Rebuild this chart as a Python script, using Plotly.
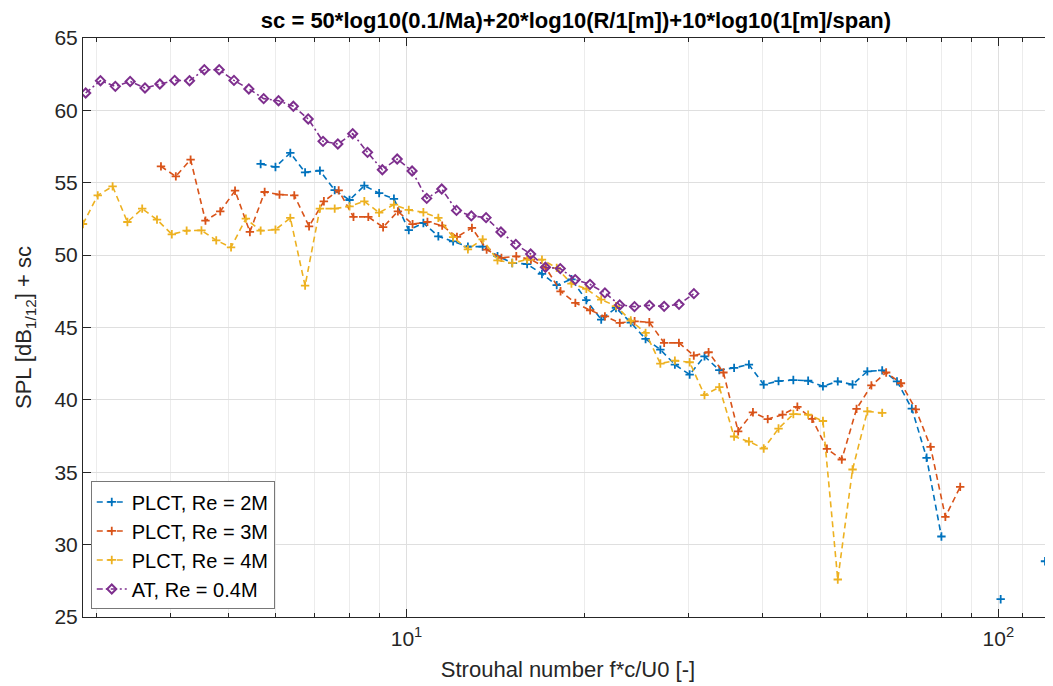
import plotly.graph_objects as go

# ---- data ----
st_re2m = [5.671, 6.007, 6.364, 6.741, 7.141, 7.564, 8.013, 8.488, 8.991, 9.524,
           10.09, 10.68, 11.32, 11.99, 12.70, 13.45, 14.25, 15.09, 15.99, 16.94,
           17.94, 19.00, 20.13, 21.33, 22.59, 23.93, 25.35, 26.85, 28.41, 30.09,
           31.88, 33.77, 35.77, 37.89, 40.14, 42.52, 45.04, 47.71, 50.54, 53.54,
           56.71, 60.07, 63.64, 67.41, 71.41, 75.64, 80.13, 84.88, 89.91, 95.24,
           100.9, 106.8, 113.2, 119.9, 127.0]
spl_re2m = [56.30, 56.09, 57.06, 55.72, 55.84, 54.49, 53.81, 54.80, 54.28, 53.89,
            51.73, 52.22, 51.30, 50.95, 50.59, 50.59, 49.93, 49.46, 49.38, 48.70,
            47.93, 48.33, 46.89, 45.55, 46.35, 45.34, 44.21, 43.47, 42.44, 41.75,
            43.01, 42.06, 42.21, 42.44, 41.06, 41.30, 41.37, 41.32, 40.94, 41.28,
            41.06, 41.97, 42.04, 41.28, 39.40, 36.00, 30.56, None, None, None,
            26.23, None, None, 28.85, 31.10]

st_re3m = [3.848, 4.077, 4.318, 4.575, 4.846, 5.133, 5.438, 5.760, 6.102, 6.463,
           6.846, 7.252, 7.682, 8.137, 8.620, 9.131, 9.672, 10.24, 10.85, 11.49,
           12.17, 12.90, 13.66, 14.47, 15.33, 16.23, 17.20, 18.21, 19.29, 20.43,
           21.64, 22.93, 24.29, 25.72, 27.25, 28.86, 30.58, 32.39, 34.31, 36.34,
           38.49, 40.77, 43.19, 45.75, 48.46, 51.33, 54.38, 57.60, 61.02, 64.63,
           68.46, 72.52, 76.82, 81.37, 86.20]
spl_re3m = [56.13, 55.44, 56.60, 52.38, 53.02, 54.45, 51.60, 54.36, 54.18, 54.13,
            51.99, 53.72, 54.47, 52.64, 52.64, 51.93, 53.02, 52.14, 52.30, 52.04,
            51.26, 51.88, 50.38, 49.81, 49.92, 49.69, 49.12, 47.50, 46.70, 46.19,
            45.77, 45.32, 45.43, 45.36, 43.94, 43.94, 43.06, 43.29, 41.89, 37.83,
            39.14, 38.67, 38.98, 39.52, 38.69, 36.62, 35.88, 39.38, 41.00, 41.89,
            41.15, 39.35, 36.75, 31.92, 33.99]

st_re4m = [2.841, 3.009, 3.188, 3.377, 3.577, 3.789, 4.014, 4.252, 4.504, 4.771,
           5.054, 5.354, 5.671, 6.007, 6.364, 6.741, 7.141, 7.564, 8.013, 8.488,
           8.991, 9.524, 10.09, 10.68, 11.32, 11.99, 12.70, 13.45, 14.25, 15.09,
           15.99, 16.94, 17.94, 19.00, 20.13, 21.33, 22.59, 23.93, 25.35, 26.85,
           28.41, 30.09, 31.88, 33.77, 35.77, 37.89, 40.14, 42.52, 45.04, 47.71,
           50.54, 53.54, 56.71, 60.07, 63.64]
spl_re4m = [52.15, 54.13, 54.75, 52.29, 53.21, 52.45, 51.44, 51.69, 51.71, 51.02,
            50.54, 52.52, 51.69, 51.76, 52.57, 47.89, 53.21, 53.21, 53.37, 53.72,
            52.93, 53.49, 53.12, 52.96, 52.57, 51.24, 50.40, 51.09, 49.64, 49.46,
            49.69, 49.69, 49.12, 48.03, 47.67, 46.93, 46.48, 45.48, 44.63, 42.51,
            42.71, 42.60, 40.33, 40.88, 37.47, 37.12, 36.64, 38.02, 39.02, 38.98,
            38.54, 27.59, 35.19, 39.21, 39.10]

st_at = [2.871, 3.041, 3.222, 3.413, 3.616, 3.831, 4.059, 4.300, 4.555, 4.826,
         5.112, 5.416, 5.738, 6.079, 6.440, 6.823, 7.228, 7.657, 8.112, 8.594,
         9.104, 9.645, 10.22, 10.82, 11.47, 12.15, 12.87, 13.63, 14.44, 15.30,
         16.21, 17.17, 18.19, 19.28, 20.42, 21.64, 22.92, 24.28, 25.73, 27.25,
         28.87, 30.59]
spl_at = [61.20, 62.05, 61.66, 62.00, 61.55, 61.82, 62.07, 62.05, 62.81, 62.81,
          62.07, 61.48, 60.81, 60.67, 60.28, 59.41, 57.86, 57.68, 58.39, 57.10,
          55.90, 56.64, 55.81, 53.92, 54.57, 53.09, 52.71, 52.59, 51.60, 50.74,
          50.08, 49.16, 49.07, 48.31, 47.98, 47.39, 46.56, 46.44, 46.53, 46.46,
          46.60, 47.34]

series_names = ["PLCT, Re = 2M", "PLCT, Re = 3M", "PLCT, Re = 4M", "AT, Re = 0.4M"]
x_ticks = [10, 100]
x_ticktext = ["10<sup>1</sup>", "10<sup>2</sup>"]
x_minor = [3, 4, 5, 6, 7, 8, 9, 20, 30, 40, 50, 60, 70, 80, 90, 110, 120]
y_ticks = [25, 30, 35, 40, 45, 50, 55, 60, 65]

# ---- figure ----
AX = "rgb(38,38,38)"
fig = go.Figure()

plct = [(st_re2m, spl_re2m, "#0072BD"),
        (st_re3m, spl_re3m, "#D95319"),
        (st_re4m, spl_re4m, "#EDB120")]
for (xs, ys, col), name in zip(plct, series_names[:3]):
    fig.add_trace(go.Scatter(
        x=xs, y=ys, name=name, mode="lines+markers",
        line=dict(color=col, width=1.6, dash="6px,4px"),
        marker=dict(symbol="cross-thin", size=6, line=dict(color=col, width=1.8)),
    ))

fig.add_trace(go.Scatter(
    x=st_at, y=spl_at, name=series_names[3], mode="lines+markers",
    line=dict(color="#7E2F8E", width=1.6, dash="6px,3px,2px,3px"),
    marker=dict(symbol="diamond-open", size=7, color="#7E2F8E",
                line=dict(color="#7E2F8E", width=2)),
))

# page body has an 8px margin; margins below compensate for it
fig.update_layout(
    width=1053, height=686,
    margin=dict(l=75, r=8, t=30, b=77),
    paper_bgcolor="white", plot_bgcolor="white",
    font=dict(family="Liberation Sans, Arial, sans-serif", size=21, color=AX),
    title=dict(text="<b>sc = 50*log10(0.1/Ma)+20*log10(R/1[m])+10*log10(1[m]/span)</b>",
               x=568 / 1053, xref="container", xanchor="center",
               y=1 - 12 / 686, yref="container", yanchor="middle",
               font=dict(size=22, color="black")),
    showlegend=True,
    legend=dict(x=0.008, y=0.013, xanchor="left", yanchor="bottom",
                bgcolor="white", bordercolor="rgb(120,120,120)", borderwidth=1,
                font=dict(size=20, color="black"), tracegroupgap=0),
)

fig.update_xaxes(
    type="log", range=[0.4535, 2.0923], automargin=False,
    tickmode="array", tickvals=x_ticks, ticktext=x_ticktext,
    ticks="inside", ticklen=8, tickcolor=AX, ticklabelstandoff=3,
    showline=True, linecolor=AX, linewidth=1, mirror="ticks",
    showgrid=True, gridcolor="rgb(223,223,223)", gridwidth=1,
    zeroline=False,
    minor=dict(tickmode="array", tickvals=x_minor, ticks="inside", ticklen=4,
               tickcolor=AX, showgrid=True, gridcolor="rgb(236,236,236)"),
    title=dict(text="Strouhal number f*c/U0 [-]", standoff=12, font=dict(size=22)),
)
fig.update_yaxes(
    range=[25, 65], tickmode="array", tickvals=y_ticks, automargin=False,
    ticks="inside", ticklen=8, tickcolor=AX,
    showline=True, linecolor=AX, linewidth=1, mirror=False,
    showgrid=True, gridcolor="rgb(223,223,223)", gridwidth=1,
    zeroline=False,
    title=dict(text="SPL [dB<sub>1/12</sub>] + sc", standoff=16, font=dict(size=22)),
)

fig.write_html("out.html")
